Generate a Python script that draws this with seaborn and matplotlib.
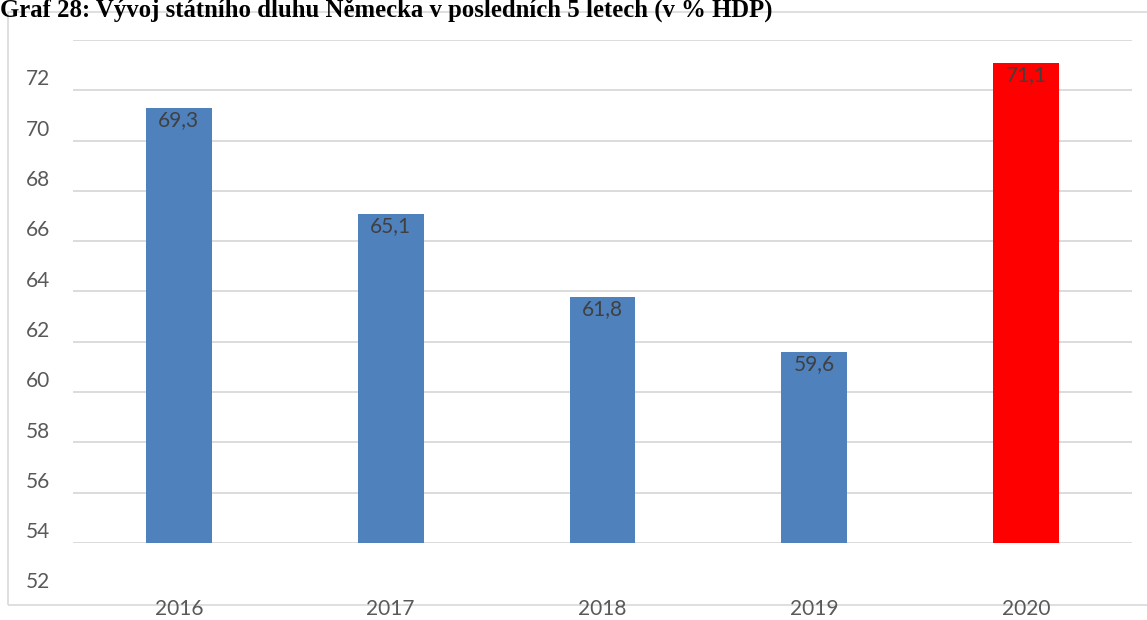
import matplotlib
matplotlib.use("Agg")
import matplotlib.pyplot as plt
from matplotlib.patches import Rectangle
from matplotlib.transforms import ScaledTranslation
import seaborn as sns
import pandas as pd

years = ["2016", "2017", "2018", "2019", "2020"]
debt = [69.3, 65.1, 61.8, 59.6, 71.1]
bar_colors = ["#4F81BD", "#4F81BD", "#4F81BD", "#4F81BD", "#FF0000"]
y_ticks = [52, 54, 56, 58, 60, 62, 64, 66, 68, 70, 72]
title = "Graf 28: Vývoj státního dluhu Německa v posledních 5 letech (v % HDP)"

sns.set_theme(style="white")
plt.rcParams["font.family"] = ["Lato", "DejaVu Sans"]

df = pd.DataFrame({"year": years, "debt": debt})
W, H = 1147, 620
fig = plt.figure(figsize=(W / 100, H / 100), dpi=100)
fig.patch.set_facecolor("white")

ax = fig.add_axes([73 / W, 1 - 543 / H, (1132 - 73) / W, (543 - 40) / H])
sns.barplot(data=df, x="year", y="debt", hue="year",
            palette=dict(zip(years, bar_colors)), width=0.31,
            legend=False, ax=ax, linewidth=0, saturation=1)

ax.set_ylim(52, 72)
ax.set_xlim(-0.5, len(years) - 0.5)
ax.set_yticks(y_ticks)
ax.set_yticklabels([str(v) for v in y_ticks])
ax.yaxis.grid(True, color="#D9D9D9", linewidth=1.3)
ax.set_axisbelow(True)
for s in ax.spines.values():
    s.set_visible(False)
ax.set_xlabel("")
ax.set_ylabel("")
ax.tick_params(axis="y", length=0, pad=16.5, labelsize=15, labelcolor="#595959")
ax.tick_params(axis="x", length=0, pad=40.5, labelsize=15, labelcolor="#595959")

# value-axis labels sit lower than their gridlines
shift = ScaledTranslation(0, -0.375, fig.dpi_scale_trans)
for lbl in ax.get_yticklabels():
    lbl.set_transform(lbl.get_transform() + shift)

# value labels inside the top of each bar
for container in ax.containers:
    ax.bar_label(container, labels=[f"{v:.1f}".replace(".", ",") for v in container.datavalues],
                 label_type="edge", padding=-16, fontsize=15, color="#404040")

# chart frame
fig.add_artist(Rectangle((8 / W, 1 - 605 / H), 1.2, (605 - 12) / H,
                         transform=fig.transFigure, fill=False,
                         edgecolor="#D9D9D9", linewidth=1.2, zorder=0))

fig.text(0.0, 1 - 17 / H, title, fontsize=17.8, fontweight="bold",
         family=["Liberation Serif", "DejaVu Serif"], color="black",
         ha="left", va="baseline")

fig.savefig("out.png", dpi=100)
